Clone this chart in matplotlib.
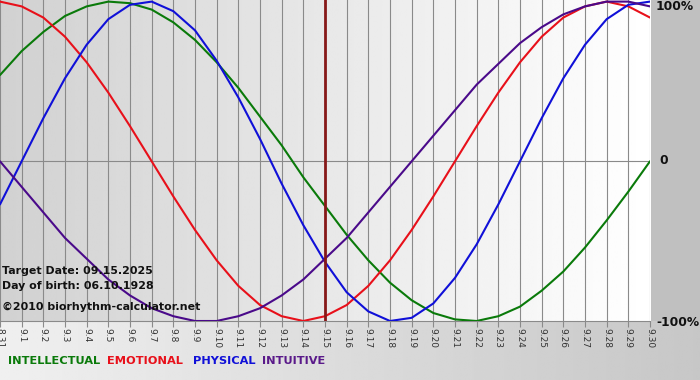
import numpy as np
import matplotlib
matplotlib.use("Agg")
import matplotlib.pyplot as plt

# days shown on the x axis (8/31 .. 9/30)
day_labels = ["8.31"] + ["9.%d" % d for d in range(1, 31)]

# biorhythm values, one per day
physical = [-0.27, 0.00, 0.27, 0.52, 0.73, 0.89, 0.98, 1.00, 0.94, 0.82,
            0.63, 0.40, 0.14, -0.14, -0.40, -0.63, -0.82, -0.94, -1.00, -0.98,
            -0.89, -0.73, -0.52, -0.27, 0.00, 0.27, 0.52, 0.73, 0.89, 0.98, 1.00]
emotional = [1.00, 0.97, 0.90, 0.78, 0.62, 0.43, 0.22, 0.00, -0.22, -0.43,
             -0.62, -0.78, -0.90, -0.97, -1.00, -0.97, -0.90, -0.78, -0.62, -0.43,
             -0.22, 0.00, 0.22, 0.43, 0.62, 0.78, 0.90, 0.97, 1.00, 0.97, 0.90]
intellectual = [0.54, 0.69, 0.81, 0.91, 0.97, 1.00, 0.99, 0.95, 0.87, 0.76,
                0.62, 0.46, 0.28, 0.10, -0.10, -0.28, -0.46, -0.62, -0.76, -0.87,
                -0.95, -0.99, -1.00, -0.97, -0.91, -0.81, -0.69, -0.54, -0.37, -0.19, 0.00]
intuitive = [0.00, -0.16, -0.32, -0.48, -0.61, -0.74, -0.84, -0.92, -0.97, -1.00,
             -1.00, -0.97, -0.92, -0.84, -0.74, -0.61, -0.48, -0.32, -0.16, 0.00,
             0.16, 0.32, 0.48, 0.61, 0.74, 0.84, 0.92, 0.97, 1.00, 1.00, 0.97]
target_idx = 15

W, H = 700, 380
fig = plt.figure(figsize=(W / 100, H / 100), dpi=100)

# background: right panel and bottom strip
bg = fig.add_axes([0, 0, 1, 1], zorder=0)
bg.axis("off")
bg.set_xlim(0, W)
bg.set_ylim(H, 0)
strip = np.linspace(0.94, 0.78, 256).reshape(1, -1)
bg.imshow(strip, cmap="gray", vmin=0, vmax=1, aspect="auto",
          extent=[0, W, H, 321], interpolation="bilinear")
bg.add_patch(plt.Rectangle((651, 0), W - 651, 321, color="#c0c0c0", lw=0))

# plot area
ax = fig.add_axes([0, 1 - 321 / H, 650 / W, 321 / H], zorder=1)
ax.patch.set_alpha(0)
x = np.arange(len(day_labels))
ax.set_xlim(0, 30)
ax.set_ylim(-1, 1.01)
grad = np.linspace(0.82, 1.0, 256).reshape(1, -1)
ax.imshow(grad, cmap="gray", vmin=0, vmax=1, aspect="auto",
          extent=[0, 30, -1, 1.01], interpolation="bilinear", zorder=0)

for xi in x:
    ax.axvline(xi, color="#8a8a8a", lw=0.8, zorder=1)
ax.axhline(0, color="#8a8a8a", lw=0.8, zorder=1)
ax.axhline(-1, color="#8a8a8a", lw=0.8, zorder=1, clip_on=False)

style = dict(lw=1.5, zorder=3, solid_joinstyle="round", solid_capstyle="round")
ax.plot(x, intellectual, color="#0a7a0a", **style)
ax.plot(x, emotional, color="#e8101a", **style)
ax.plot(x, physical, color="#1010d8", **style)
ax.plot(x, intuitive, color="#4a0a8a", **style)
ax.axvline(target_idx, color="#861818", lw=2.0, zorder=4)

for s in ax.spines.values():
    s.set_visible(False)
ax.set_yticks([])
ax.set_xticks(x)
ax.set_xticklabels(day_labels, rotation=-90, fontsize=6.5, color="#333333")
ax.tick_params(axis="x", length=4, width=0.8, color="#8a8a8a", pad=1)

def px(xp, yp):
    return xp / W, 1 - yp / H

bold = dict(fontweight="bold", family="DejaVu Sans")
fig.text(*px(2, 271), "Target Date: 09.15.2025", fontsize=7.9, va="center",
         color="#111111", zorder=5, **bold)
fig.text(*px(2, 286), "Day of birth: 06.10.1928", fontsize=7.9, va="center",
         color="#111111", zorder=5, **bold)
fig.text(*px(2, 307), "\u00a92010 biorhythm-calculator.net", fontsize=7.9,
         va="center", color="#111111", zorder=5, **bold)

fig.text(*px(656, 7), "100%", fontsize=8.8, va="center", color="#111111", **bold)
fig.text(*px(659, 161), "0", fontsize=8.8, va="center", color="#111111", **bold)
fig.text(*px(656, 322), "-100%", fontsize=8.8, va="center", color="#111111", **bold)

legend = [("INTELLECTUAL", "#0a7a0a", 8), ("EMOTIONAL", "#e8101a", 107),
          ("PHYSICAL", "#1010d8", 193), ("INTUITIVE", "#5a1a8a", 262)]
for name, col, xp in legend:
    fig.text(*px(xp, 361), name, fontsize=8.2, va="center", color=col, **bold)

fig.savefig("out.png", dpi=100)
